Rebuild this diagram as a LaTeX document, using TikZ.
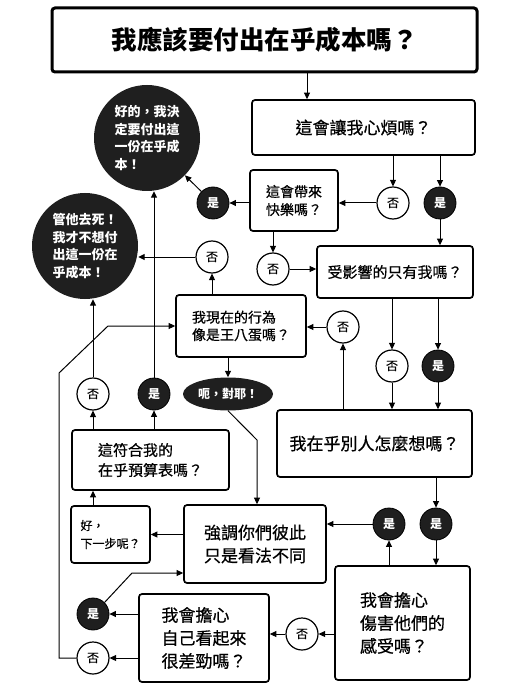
\documentclass[tikz,border=0pt]{standalone}
\usepackage{fontspec}
\newfontfamily\cjk{Noto Sans CJK TC}
\newfontfamily\cjkm[FakeBold=0.6]{Noto Sans CJK TC}
\usetikzlibrary{arrows.meta,shapes.geometric}
\newcommand\fsz[2]{\fontsize{#1}{#2}\selectfont}
\begin{document}
\begin{tikzpicture}[x=1pt,y=-1pt,
  box/.style={draw, line width=1.7pt, rounded corners=3pt, inner sep=0pt, align=center, font=\cjkm\fsz{17}{23}},
  yes/.style={circle, draw=black, fill=black!88, line width=0.8pt, minimum size=32pt, inner sep=0pt, text=white, font=\cjk\bfseries\fsz{12}{12}},
  no/.style={circle, draw=black, fill=white, line width=1.2pt, minimum size=32pt, inner sep=0pt, font=\cjkm\fsz{12}{12}},
  big/.style={circle, fill=black!88, minimum size=106pt, inner sep=0pt, text=white, align=left, font=\cjk\bfseries\fsz{13}{17.5}},
  arr/.style={-{Triangle[length=6.5pt,width=6pt]}, line width=1pt}]
\useasboundingbox (0,0) rectangle (526,692);
% boxes
\node[box, line width=3pt, minimum width=425pt, minimum height=64pt, font=\cjk\bfseries\fsz{25.5}{26}] (title) at (264.5,40) {我應該要付出在乎成本嗎？};
\node[box, minimum width=223pt, minimum height=55pt] (fan) at (363.5,127.5) {這會讓我心煩嗎？};
\node[box, minimum width=88pt, minimum height=61pt, font=\cjkm\fsz{14}{18}] (kuaile) at (294,200.5) {這會帶來\\快樂嗎？};
\node[box, minimum width=156pt, minimum height=52pt, font=\cjkm\fsz{15}{18}] (only) at (395,272) {受影響的只有我嗎？};
\node[box, minimum width=130pt, minimum height=62pt, align=left, font=\cjkm\fsz{14}{17.5}] (wbd) at (241,326) {我現在的行為\\像是王八蛋嗎？};
\node[box, minimum width=195pt, minimum height=67pt] (others) at (374.5,443.5) {我在乎別人怎麼想嗎？};
\node[box, minimum width=157pt, minimum height=60pt, align=left, font=\cjkm\fsz{15}{20}] (budget) at (150.5,460) {這符合我的\\在乎預算表嗎？};
\node[box, minimum width=142pt, minimum height=78pt, align=left] (strong) at (255,544) {強調你們彼此\\只是看法不同};
\node[box, minimum width=79pt, minimum height=57pt, align=left, font=\cjkm\fsz{12}{18}] (next) at (110.5,534.5) {好，\\下一步呢？};
\node[box, minimum width=135pt, minimum height=114pt, align=left] (hurt) at (402.5,623) {我會擔心\\傷害他們的\\感受嗎？};
\node[box, minimum width=130pt, minimum height=88pt, align=left] (look) at (204,638) {我會擔心\\自己看起來\\很差勁嗎？};
% big circles
\node[big] (good) at (147,138) {好的，我決\\定要付出這\\一份在乎成\\本！};
\node[big] (fuck) at (85,246) {管他去死！\\我才不想付\\出這一份在\\乎成本！};
% ellipse
\node[ellipse, fill=black!88, minimum width=90pt, minimum height=33pt, inner sep=0pt, text=white, font=\cjk\bfseries\fsz{12}{12}] (eh) at (228,394) {呃，對耶！};
% yes / no circles
\node[yes] (y1) at (213,203) {是};
\node[no] (n1) at (393,203) {否};
\node[yes] (y2) at (440,203) {是};
\node[no] (n2) at (212,257) {否};
\node[no] (n3) at (273,269) {否};
\node[no] (n4) at (343,327) {否};
\node[no] (n5) at (392,366) {否};
\node[yes] (y5) at (438,366) {是};
\node[no] (n6) at (93,394) {否};
\node[yes] (y6) at (154,394) {是};
\node[yes] (y7) at (389,524) {是};
\node[yes] (y8) at (436,524) {是};
\node[no] (n9) at (302,634) {否};
\node[yes] (y9) at (93,614) {是};
\node[no] (n10) at (93,658) {否};
% helper coordinates
\coordinate (p1) at (307,0);
\coordinate (p2) at (257,440);
\coordinate (p3) at (132,573);
\coordinate (p4) at (59,658);
\coordinate (p5) at (59,373);
\coordinate (p6) at (108,326);
% connectors
\draw[arr] (title.south -| p1) -- (fan.north -| p1);
\draw[arr] (fan.south -| n1) -- (n1.north);
\draw[arr] (fan.south -| y2) -- (y2.north);
\draw[arr] (n1.west) -- (kuaile.east |- n1);
\draw[arr] (kuaile.west |- y1) -- (y1.east);
\draw[arr] (y1) -- (good);
\draw[arr] (y2.south) -- (only.north -| y2);
\draw[arr] (kuaile.south -| n3) -- (n3.north);
\draw[arr] (n3.east) -- (only.west |- n3);
\draw[arr] (only.south -| n5) -- (n5.north);
\draw[arr] (only.south -| y5) -- (y5.north);
\draw[arr] (n5.south) -- (others.north -| n5);
\draw[arr] (y5.south) -- (others.north -| y5);
\draw[arr] (others.north -| n4) -- (n4.south);
\draw[arr] (n4.west) -- (wbd.east |- n4);
\draw[arr] (wbd.north -| n2) -- (n2.south);
\draw[arr] (n2.west) -- (fuck.east |- n2);
\draw[arr] (wbd.south -| eh) -- (eh.north);
\draw[arr] (eh.south) -- (p2) -- (strong.north -| p2);
\draw[arr] (others.south -| y8) -- (y8.north);
\draw[arr] (y8.south) -- (hurt.north -| y8);
\draw[arr] (hurt.north -| y7) -- (y7.south);
\draw[arr] (y7.west) -- (strong.east |- y7);
\draw[arr] (strong.west |- next) -- (next.east);
\draw[arr] (next.north -| n6) -- (budget.south -| n6);
\draw[arr] (budget.north -| n6) -- (n6.south);
\draw[arr] (budget.north -| y6) -- (y6.south);
\draw[arr] (n6.north) -- (n6 |- fuck.south);
\draw[arr] (y6.north) -- (y6 |- good.south);
\draw[arr] (look.west |- y9) -- (y9.east);
\draw[arr] (look.west |- n10) -- (n10.east);
\draw[arr] (y9.north east) -- (p3) -- (strong.west |- p3);
\draw[arr] (n10.west) -- (p4) -- (p5) -- (p6) -- (wbd.west |- p6);
\draw[arr] (hurt.west |- n9) -- (n9.east);
\draw[arr] (n9.west) -- (look.east |- n9);
\end{tikzpicture}
\end{document}
